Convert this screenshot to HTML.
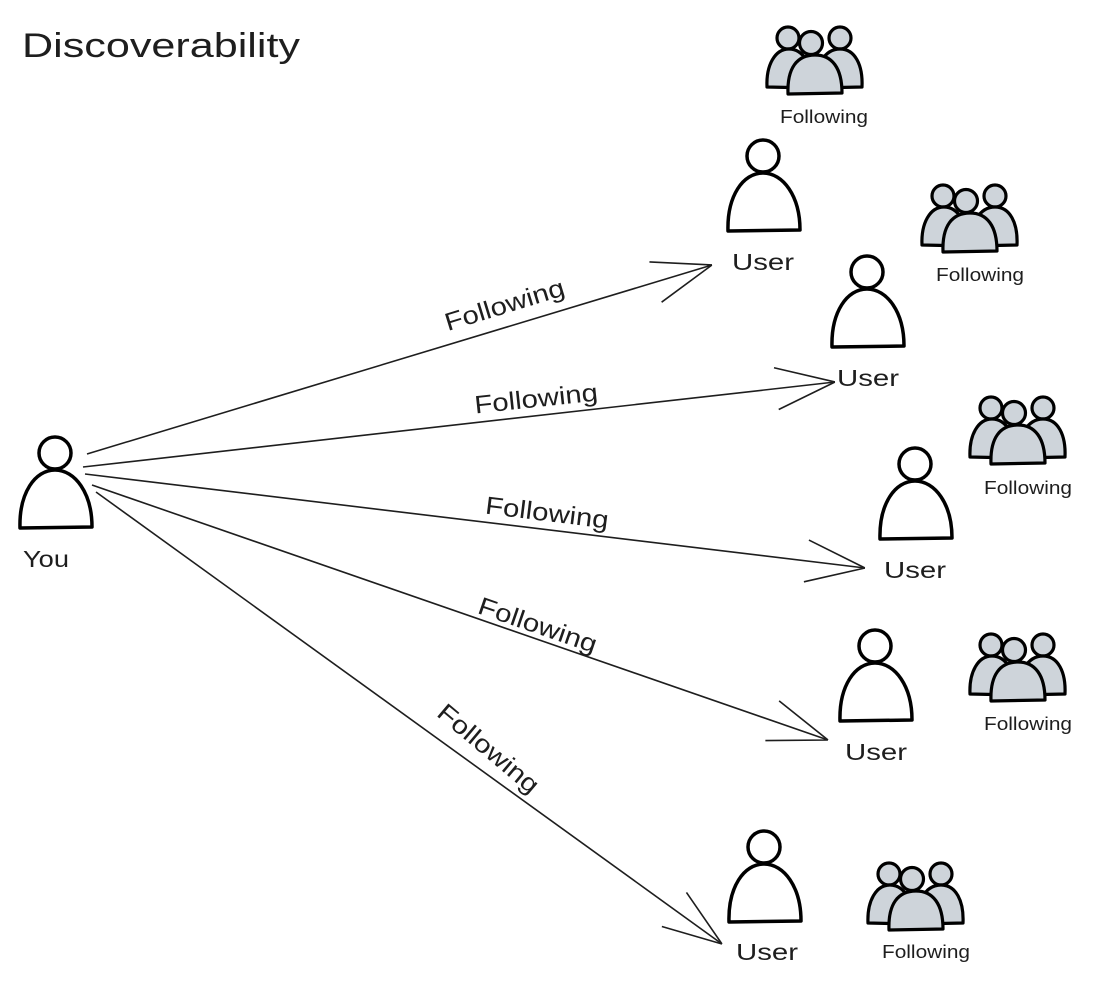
<!DOCTYPE html>
<html><head><meta charset="utf-8"><style>
html,body{margin:0;padding:0;background:#fff;}
svg{display:block}
text{font-family:"Liberation Sans",sans-serif;fill:#1e1e1e}
</style></head><body>
<svg width="1097" height="989" viewBox="0 0 1097 989" xmlns="http://www.w3.org/2000/svg">
<defs>
<marker id="ah" viewBox="0 0 60 44" refX="60" refY="22" markerWidth="60" markerHeight="44" markerUnits="userSpaceOnUse" orient="auto">
<path d="M1,1 L60,22 L1,43" fill="none" stroke="#1e1e1e" stroke-width="1.6"/>
</marker>
<g id="p">
<circle cx="0" cy="0" r="16" fill="#fff" stroke="#000" stroke-width="3.5"/>
<path d="M-35,75 C-36,40 -20,17 0,17 C20,17 37,40 37,74 Z" fill="#fff" stroke="#000" stroke-width="3.5" stroke-linejoin="round"/>
</g>
<g id="g">
<g fill="#ced4da" stroke="#000" stroke-width="3.2" stroke-linejoin="round">
<circle cx="-25" cy="-22" r="11"/>
<circle cx="27" cy="-22" r="11"/>
<path d="M-46,27 C-47,5 -38,-11 -24,-11 C-10,-11 0,5 0,28 Z"/>
<path d="M2,28 C2,5 12,-11 27,-11 C42,-11 50,5 49,27 Z"/>
<circle cx="-2" cy="-17" r="11.5"/>
<path d="M-25,34 C-26,8 -16,-5 2,-5 C19,-5 29,8 29,33 Z"/>
</g>
</g>
</defs>

<text x="22" y="57" font-size="34" textLength="278" lengthAdjust="spacingAndGlyphs">Discoverability</text>

<g stroke="#1e1e1e" stroke-width="1.6" fill="none" marker-end="url(#ah)">
<line x1="87" y1="454" x2="712" y2="265"/>
<line x1="83" y1="467" x2="835" y2="382"/>
<line x1="85" y1="474" x2="865" y2="568"/>
<line x1="92" y1="485" x2="828" y2="740"/>
<line x1="96" y1="492" x2="722" y2="944"/>
</g>

<g font-size="25" text-anchor="middle">
<text transform="translate(507,313) rotate(-17)" textLength="124" lengthAdjust="spacingAndGlyphs">Following</text>
<text transform="translate(537,407) rotate(-6)" textLength="124" lengthAdjust="spacingAndGlyphs">Following</text>
<text transform="translate(546,521) rotate(7)" textLength="124" lengthAdjust="spacingAndGlyphs">Following</text>
<text transform="translate(535,633) rotate(19)" textLength="124" lengthAdjust="spacingAndGlyphs">Following</text>
<text transform="translate(483,755) rotate(40)" textLength="124" lengthAdjust="spacingAndGlyphs">Following</text>
</g>

<use href="#p" x="55" y="453"/>
<use href="#p" x="763" y="156"/>
<use href="#p" x="867" y="272"/>
<use href="#p" x="915" y="464"/>
<use href="#p" x="875" y="646"/>
<use href="#p" x="764" y="847"/>

<g font-size="23" text-anchor="middle">
<text x="46" y="567" textLength="46" lengthAdjust="spacingAndGlyphs">You</text>
<text x="763" y="270" textLength="62" lengthAdjust="spacingAndGlyphs">User</text>
<text x="868" y="386" textLength="62" lengthAdjust="spacingAndGlyphs">User</text>
<text x="915" y="578" textLength="62" lengthAdjust="spacingAndGlyphs">User</text>
<text x="876" y="760" textLength="62" lengthAdjust="spacingAndGlyphs">User</text>
<text x="767" y="960" textLength="62" lengthAdjust="spacingAndGlyphs">User</text>
</g>

<use href="#g" x="813" y="60"/>
<use href="#g" x="968" y="218"/>
<use href="#g" x="1016" y="430"/>
<use href="#g" x="1016" y="667"/>
<use href="#g" x="914" y="896"/>

<g font-size="18" text-anchor="middle">
<text x="824" y="123" textLength="88" lengthAdjust="spacingAndGlyphs">Following</text>
<text x="980" y="281" textLength="88" lengthAdjust="spacingAndGlyphs">Following</text>
<text x="1028" y="494" textLength="88" lengthAdjust="spacingAndGlyphs">Following</text>
<text x="1028" y="730" textLength="88" lengthAdjust="spacingAndGlyphs">Following</text>
<text x="926" y="958" textLength="88" lengthAdjust="spacingAndGlyphs">Following</text>
</g>
</svg>
</body></html>
